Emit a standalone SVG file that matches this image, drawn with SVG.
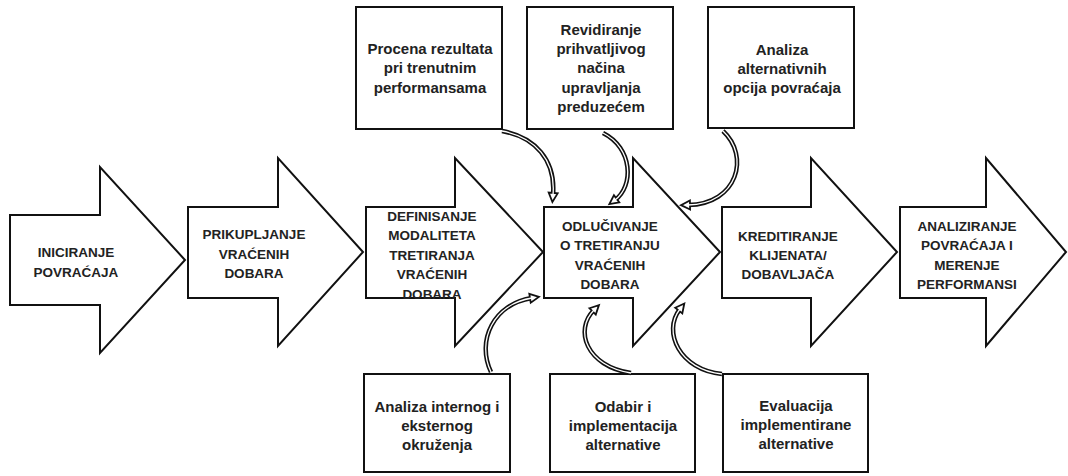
<svg xmlns="http://www.w3.org/2000/svg" width="1068" height="476" viewBox="0 0 1068 476">
  <style>
    .step { fill: #fff; stroke: #111; stroke-width: 2; stroke-linejoin: miter; }
    .box { fill: #fff; stroke: #111; stroke-width: 2; }
    .cap { font-family: "Liberation Sans", Arial, sans-serif; font-weight: bold; font-size: 13.5px; fill: #222; text-anchor: middle; }
    .lbl { font-family: "Liberation Sans", Arial, sans-serif; font-weight: bold; font-size: 15px; fill: #222; text-anchor: middle; }
    .band-out { fill: none; stroke: #111; stroke-width: 4.5; stroke-linecap: butt; }
    .band-in { fill: none; stroke: #fff; stroke-width: 1.3; stroke-linecap: butt; }
  </style>
  <defs>
    <marker id="tip" markerUnits="userSpaceOnUse" markerWidth="14" markerHeight="14" refX="2" refY="5.5" orient="auto" overflow="visible">
      <path d="M0,1 L9,5.5 L0,10 Z" fill="#fff" stroke="#111" stroke-width="1.8" stroke-linejoin="miter"/>
    </marker>
  </defs>
  <rect width="1068" height="476" fill="#fff"/>

  <!-- main process chevrons -->
  <g id="step-iniciranje">
    <polygon class="step" points="10,215 100,215 100,167 185,260 100,353 100,305 10,305"/>
    <text class="cap" x="76" y="257">INICIRANJE</text>
    <text class="cap" x="76" y="277">POVRAĆAJA</text>
  </g>
  <g id="step-prikupljanje">
    <polygon class="step" points="188,207 278,207 278,158 363,252 278,346 278,298 188,298"/>
    <text class="cap" x="254" y="239">PRIKUPLJANJE</text>
    <text class="cap" x="254" y="259">VRAĆENIH</text>
    <text class="cap" x="254" y="278">DOBARA</text>
  </g>
  <g id="step-definisanje">
    <polygon class="step" points="366,207 455,207 455,158 543,252 455,346 455,298 366,298"/>
    <text class="cap" x="432" y="221">DEFINISANJE</text>
    <text class="cap" x="432" y="240">MODALITETA</text>
    <text class="cap" x="432" y="260">TRETIRANJA</text>
    <text class="cap" x="432" y="279">VRAĆENIH</text>
    <text class="cap" x="432" y="299">DOBARA</text>
  </g>
  <g id="step-odlucivanje">
    <polygon class="step" points="544,207 633,207 633,158 720,252 633,346 633,298 544,298"/>
    <text class="cap" x="610" y="231">ODLUČIVANJE</text>
    <text class="cap" x="610" y="250">O TRETIRANJU</text>
    <text class="cap" x="610" y="270">VRAĆENIH</text>
    <text class="cap" x="610" y="289">DOBARA</text>
  </g>
  <g id="step-kreditiranje">
    <polygon class="step" points="722,207 811,207 811,158 897,252 811,346 811,298 722,298"/>
    <text class="cap" x="788" y="241">KREDITIRANJE</text>
    <text class="cap" x="788" y="260">KLIJENATA/</text>
    <text class="cap" x="788" y="279">DOBAVLJAČA</text>
  </g>
  <g id="step-analiziranje">
    <polygon class="step" points="900,207 986,207 986,158 1066,252 986,346 986,298 900,298"/>
    <text class="cap" x="967" y="231">ANALIZIRANJE</text>
    <text class="cap" x="967" y="250">POVRAĆAJA I</text>
    <text class="cap" x="967" y="270">MERENJE</text>
    <text class="cap" x="967" y="289">PERFORMANSI</text>
  </g>

  <!-- supporting activities above -->
  <g id="box-procena">
    <rect class="box" x="356" y="7" width="146" height="122"/>
    <text class="lbl" x="430" y="54">Procena rezultata</text>
    <text class="lbl" x="430" y="73">pri trenutnim</text>
    <text class="lbl" x="430" y="93">performansama</text>
  </g>
  <g id="box-revidiranje">
    <rect class="box" x="527" y="7" width="146" height="122"/>
    <text class="lbl" x="601" y="35">Revidiranje</text>
    <text class="lbl" x="601" y="54">prihvatljivog</text>
    <text class="lbl" x="601" y="73">načina</text>
    <text class="lbl" x="601" y="93">upravljanja</text>
    <text class="lbl" x="601" y="112">preduzećem</text>
  </g>
  <g id="box-analiza-opcija">
    <rect class="box" x="708" y="7" width="146" height="121"/>
    <text class="lbl" x="782" y="55">Analiza</text>
    <text class="lbl" x="782" y="74">alternativnih</text>
    <text class="lbl" x="782" y="93">opcija povraćaja</text>
  </g>

  <!-- supporting activities below -->
  <g id="box-okruzenje">
    <rect class="box" x="364" y="374" width="146" height="98"/>
    <text class="lbl" x="437" y="412">Analiza internog i</text>
    <text class="lbl" x="437" y="431">eksternog</text>
    <text class="lbl" x="437" y="450">okruženja</text>
  </g>
  <g id="box-odabir">
    <rect class="box" x="550" y="374" width="145" height="98"/>
    <text class="lbl" x="623" y="412">Odabir i</text>
    <text class="lbl" x="623" y="431">implementacija</text>
    <text class="lbl" x="623" y="450">alternative</text>
  </g>
  <g id="box-evaluacija">
    <rect class="box" x="723" y="374" width="145" height="98"/>
    <text class="lbl" x="796" y="411">Evaluacija</text>
    <text class="lbl" x="796" y="430">implementirane</text>
    <text class="lbl" x="796" y="449">alternative</text>
  </g>

  <!-- curved feedback connectors -->
  <g id="connectors">
    <path class="band-out" marker-end="url(#tip)" d="M502,131 C535,137 556,160 553,195"/>
    <path class="band-in" d="M502,131 C535,137 556,160 553,195"/>

    <path class="band-out" marker-end="url(#tip)" d="M603,133 C633,148 634,186 615,200"/>
    <path class="band-in" d="M603,133 C633,148 634,186 615,200"/>

    <path class="band-out" marker-end="url(#tip)" d="M723,131 C750,156 738,204 688,205"/>
    <path class="band-in" d="M723,131 C750,156 738,204 688,205"/>

    <path class="band-out" marker-end="url(#tip)" d="M491,372 C476,340 494,304 532,298"/>
    <path class="band-in" d="M491,372 C476,340 494,304 532,298"/>

    <path class="band-out" marker-end="url(#tip)" d="M631,373 C586,366 574,330 594,310"/>
    <path class="band-in" d="M631,373 C586,366 574,330 594,310"/>

    <path class="band-out" marker-end="url(#tip)" d="M722,374 C680,370 662,332 680,309"/>
    <path class="band-in" d="M722,374 C680,370 662,332 680,309"/>
  </g>
</svg>
